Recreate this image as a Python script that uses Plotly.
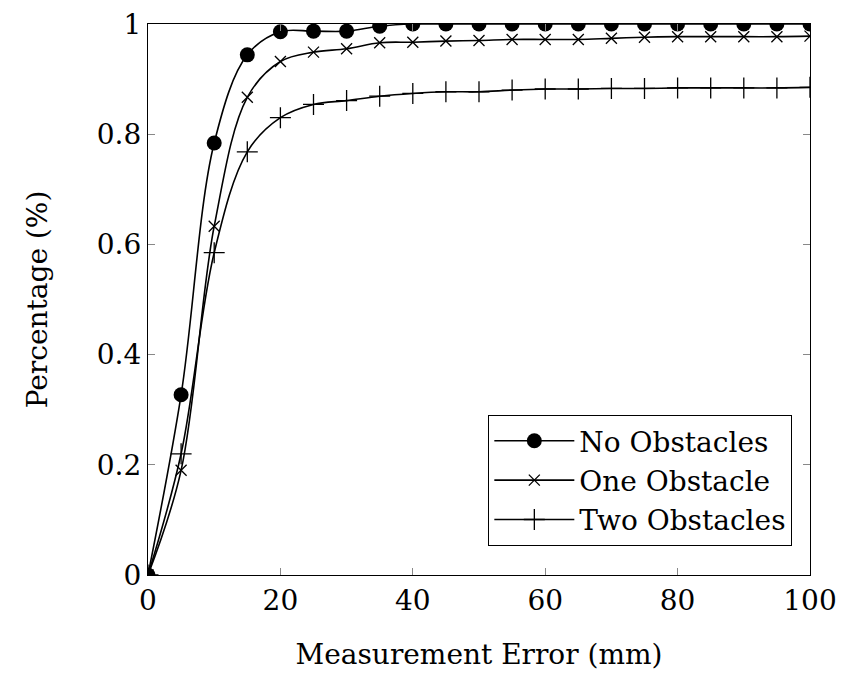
import plotly.graph_objects as go

x = [0, 5, 10, 15, 20, 25, 30, 35, 40, 45, 50, 55, 60, 65, 70, 75, 80, 85, 90, 95, 100]
no_obs = [0, 0.327, 0.784, 0.944, 0.986, 0.987, 0.987, 0.996, 1.0, 1.0, 1.0, 1.0, 1.0, 1.0, 1.0, 1.0, 1.0, 1.0, 1.0, 1.0, 1.0]
one_obs = [0, 0.19, 0.633, 0.867, 0.932, 0.949, 0.955, 0.966, 0.967, 0.969, 0.970, 0.972, 0.972, 0.972, 0.974, 0.976, 0.977, 0.977, 0.977, 0.977, 0.978]
two_obs = [0, 0.22, 0.585, 0.768, 0.830, 0.854, 0.861, 0.869, 0.874, 0.877, 0.877, 0.880, 0.882, 0.882, 0.883, 0.883, 0.884, 0.884, 0.884, 0.884, 0.885]

FONT = "DejaVu Serif"
FS = 28

fig = go.Figure()
fig.add_trace(go.Scatter(x=x, y=no_obs, name="No Obstacles", mode="lines+markers",
                         line=dict(color="black", width=1.6, shape="spline", smoothing=1.0),
                         marker=dict(symbol="circle", size=15, color="black")))
fig.add_trace(go.Scatter(x=x, y=one_obs, name="One Obstacle", mode="lines+markers",
                         line=dict(color="black", width=1.6, shape="spline", smoothing=1.0),
                         marker=dict(symbol="x-thin-open", size=11, color="black",
                                     line=dict(color="black", width=1.3))))
fig.add_trace(go.Scatter(x=x, y=two_obs, name="Two Obstacles", mode="lines+markers",
                         line=dict(color="black", width=1.6, shape="spline", smoothing=1.0),
                         marker=dict(symbol="cross-thin-open", size=15, color="black",
                                     line=dict(color="black", width=1.3))))

axis_common = dict(showline=True, linecolor="black", linewidth=1.2, mirror="allticks",
                   ticks="inside", ticklen=7, tickcolor="#888", tickwidth=1,
                   showgrid=False, zeroline=False, ticklabeloverflow="allow",
                   automargin=False,
                   tickfont=dict(family=FONT, size=FS, color="black"))

fig.update_xaxes(range=[0, 100], tickvals=[0, 20, 40, 60, 80, 100],
                 title=dict(text="Measurement Error (mm)", font=dict(family=FONT, size=FS, color="black"), standoff=28),
                 **axis_common)
fig.update_yaxes(range=[0, 1], tickvals=[0, 0.2, 0.4, 0.6, 0.8, 1],
                 ticktext=["0", "0.2", "0.4", "0.6", "0.8", "1"],
                 title=dict(text="Percentage (%)", font=dict(family=FONT, size=FS, color="black"), standoff=40),
                 **axis_common)

fig.update_layout(
    width=841, height=673,
    margin=dict(l=148, r=31, t=24, b=98),
    plot_bgcolor="white", paper_bgcolor="white",
    font=dict(family=FONT, size=FS, color="black"),
    hovermode=False,
    legend=dict(x=0.973, y=0.053, xanchor="right", yanchor="bottom",
                bordercolor="black", borderwidth=1.2, bgcolor="white",
                font=dict(family=FONT, size=FS, color="black"),
                tracegroupgap=0, itemwidth=80),
)

fig.write_html("out.html", config={"displayModeBar": False},
               post_script="document.body.style.margin='0';document.body.style.overflow='hidden';")
